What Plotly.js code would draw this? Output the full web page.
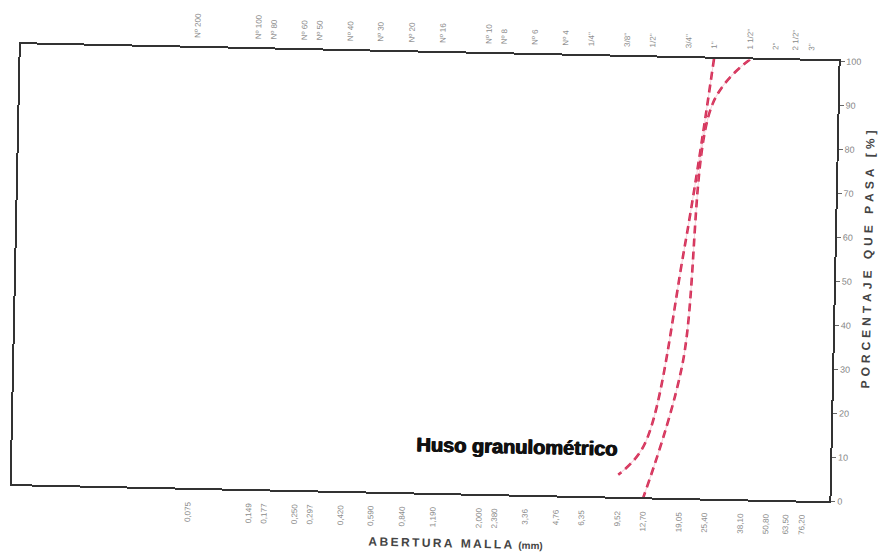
<!DOCTYPE html>
<html>
<head>
<meta charset="utf-8">
<script src="https://cdn.plot.ly/plotly-3.0.1.min.js"></script>
<style>
  html, body { margin: 0; padding: 0; background: #fff; overflow: hidden; }
  #chart { width: 879px; height: 555px; transform: rotate(1.2deg); transform-origin: 50% 50%; }
</style>
</head>
<body>
<div id="chart"></div>
<script>
// Sieve openings (mm) with their printed values and ASTM designations
const sieveMm = [0.075, 0.149, 0.177, 0.250, 0.297, 0.420, 0.590, 0.840, 1.190, 2.000, 2.380,
                 3.360, 4.760, 6.350, 9.520, 12.700, 19.050, 25.400, 38.100, 50.800, 63.500, 76.200];
const sieveMmText = ['0,075', '0,149', '0,177', '0,250', '0,297', '0,420', '0,590', '0,840', '1,190', '2,000', '2,380',
                     '3,36', '4,76', '6,35', '9,52', '12,70', '19,05', '25,40', '38,10', '50,80', '63,50', '76,20'];
const sieveNames = ['Nº 200', 'Nº 100', 'Nº 80', 'Nº 60', 'Nº 50', 'Nº 40', 'Nº 30', 'Nº 20', 'Nº 16', 'Nº 10', 'Nº 8',
                    'Nº 6', 'Nº 4', '1/4"', '3/8"', '1/2"', '3/4"', '1"', '1 1/2"', '2"', '2 1/2"', '3"'];

// Gradation band (huso): upper and lower limits, % passing
const upperMm  = [25.4, 19.05, 12.7, 9.52];
const upperPct = [100, 57, 12, 5];
const lowerMm  = [38.1, 25.4, 19.05, 12.7];
const lowerPct = [100, 90, 30, 0];

const X_RANGE = [-1.99, 2.015];
const BAND_RED = '#d42c55';

function spaced(s, gap) { return s.split('').join(gap); }

const tickFont = { family: 'Liberation Sans, Arial, sans-serif', size: 8, color: '#8a8a8a' };
const titleFont = { family: 'Liberation Sans, Arial, sans-serif', size: 12, color: '#444', weight: 'bold' };

function bandTrace(x, y, axis, line) {
  return { type: 'scatter', mode: 'lines', x: x, y: y, xaxis: axis, yaxis: 'y',
           line: Object.assign({ shape: 'spline', smoothing: 1 }, line), hoverinfo: 'skip' };
}

const traces = [
  // faint ink trail under each dashed limit
  bandTrace(upperMm, upperPct, 'x2', { color: 'rgba(230,120,150,0.35)', width: 1 }),
  bandTrace(lowerMm, lowerPct, 'x2', { color: 'rgba(230,120,150,0.35)', width: 1 }),
  bandTrace(upperMm, upperPct, 'x', { color: BAND_RED, width: 2.6, dash: '8px,5px' }),
  bandTrace(lowerMm, lowerPct, 'x', { color: BAND_RED, width: 2.6, dash: '8px,5px' })
];

const layout = {
  width: 879, height: 555,
  margin: { l: 16, r: 45, t: 53, b: 62 },
  paper_bgcolor: '#fff', plot_bgcolor: '#fff',
  showlegend: false,
  xaxis: {
    type: 'log', range: X_RANGE,
    tickmode: 'array', tickvals: sieveMm, ticktext: sieveMmText,
    tickangle: -90, tickfont: tickFont, ticks: '', ticklabelstandoff: 9,
    showgrid: false, zeroline: false,
    showline: true, mirror: true, linecolor: '#333', linewidth: 2
  },
  xaxis2: {
    type: 'log', range: X_RANGE, overlaying: 'x', side: 'top', anchor: 'y',
    tickmode: 'array', tickvals: sieveMm, ticktext: sieveNames,
    tickangle: -90, tickfont: tickFont, ticks: '', ticklabelstandoff: 9,
    showgrid: false, zeroline: false, showline: false
  },
  yaxis: {
    side: 'right', range: [0, 100], dtick: 10,
    ticks: 'outside', ticklen: 4, tickcolor: '#666', tickwidth: 1,
    tickfont: { family: 'Liberation Sans, Arial, sans-serif', size: 9, color: '#888' },
    showgrid: false, zeroline: false,
    showline: true, mirror: true, linecolor: '#333', linewidth: 2
  },
  annotations: [
    {
      xref: 'paper', yref: 'paper', x: 0.5434, y: -0.113, xanchor: 'center', yanchor: 'middle',
      showarrow: false, font: titleFont,
      text: spaced('ABERTURA MALLA', '\u2009') + '\u2002<span style="font-size:10px">(mm)</span>'
    },
    {
      xref: 'paper', yref: 'paper', x: 1.041, y: 0.55, xanchor: 'center', yanchor: 'middle',
      showarrow: false, textangle: -90, font: titleFont,
      text: spaced('PORCENTAJE QUE PASA [%]', '\u2004')
    },
    {
      xref: 'paper', yref: 'paper', x: 0.6167, y: 0.1084, xanchor: 'center', yanchor: 'middle',
      showarrow: false,
      font: { family: 'Liberation Sans, Arial, sans-serif', size: 20, color: '#111', weight: 'bold',
              shadow: '0.6px 0 0 #111, -0.6px 0 0 #111' },
      text: 'Huso granulométrico'
    }
  ]
};

Plotly.newPlot('chart', traces, layout, { staticPlot: true, displayModeBar: false });
</script>
</body>
</html>
